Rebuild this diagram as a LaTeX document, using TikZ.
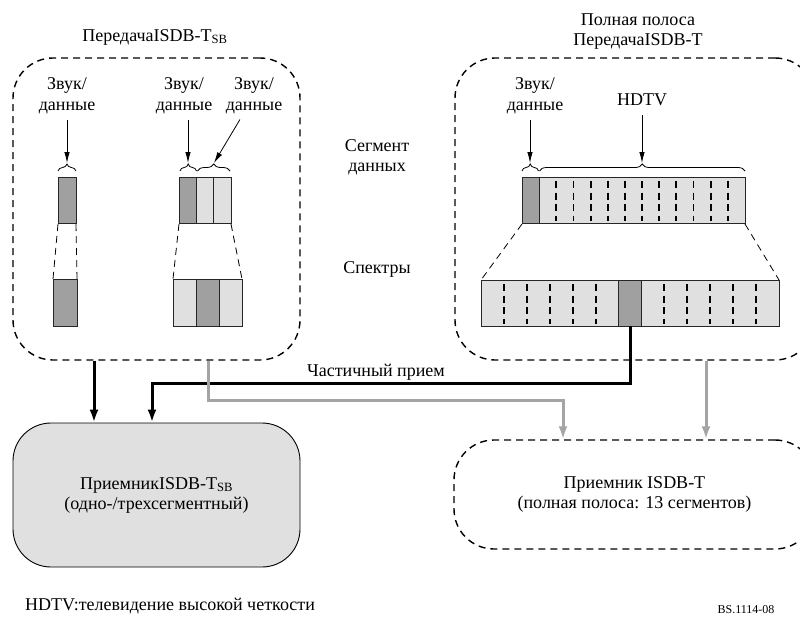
\documentclass[tikz,border=0pt]{standalone}
\usepackage{fontspec}
\setmainfont{Liberation Serif}
\usetikzlibrary{arrows.meta,decorations.pathreplacing,calc}
\definecolor{dk}{HTML}{A0A0A0}
\definecolor{lt}{HTML}{E0E0E0}
\definecolor{gl}{HTML}{A4A4A4}
\begin{document}
\begin{tikzpicture}[x=1pt,y=-1pt,
  every node/.style={font=\fontsize{18}{21}\selectfont, inner sep=0pt},
  lab/.style={align=center},
  dbox/.style={draw, dash pattern=on 7pt off 5pt, line width=1.4pt, rounded corners=40pt},
  cellbox/.style={draw=black!85, line width=0.8pt},
  trap/.style={draw, line width=0.8pt, dash pattern=on 7pt off 5pt},
  divd/.style={draw, line width=1.8pt, dash pattern=on 7pt off 4.5pt},
  brc/.style={draw, line width=0.8pt, decorate, decoration={brace, amplitude=7pt}},
  arr/.style={draw, line width=0.8pt, -{Latex[length=11pt,width=5.5pt]}},
  blk/.style={draw, line width=3pt, -{Latex[length=13pt,width=9pt]}},
  gry/.style={draw=gl, line width=3pt, -{Latex[length=13pt,width=9pt]}},
]
\useasboundingbox (0,0) rectangle (800,619);

% transmission boxes
\node[dbox, minimum width=287pt, minimum height=302pt] (ltx) at (156.5,209) {};
\node[dbox, minimum width=360pt, minimum height=302pt] (rtx) at (635,209) {};
% receivers
\node[draw, line width=0.9pt, fill=lt, rounded corners=38pt, minimum width=287pt, minimum height=144pt, align=center, font=\fontsize{18}{20}\selectfont] (lrx) at (156.5,495) {ПриемникISDB-T\textsubscript{SB}\\(одно-/трехсегментный)};
\node[dbox, minimum width=361pt, minimum height=109pt, align=center, font=\fontsize{18}{20}\selectfont] (rrx) at (634.5,494.5) {Приемник ISDB-T\\(полная полоса: 13 сегментов)};

% titles
\node (tl) at (155,37) {ПередачаISDB-T\textsubscript{SB}};
\node[lab, font=\fontsize{18}{20}\selectfont] (tr) at (638,32) {Полная полоса\\ПередачаISDB-T};
\node[lab, font=\fontsize{18}{20}\selectfont] (sd) at (377,157) {Сегмент\\данных};
\node (sp) at (377,269) {Спектры};
\node (pr) at (376,372) {Частичный прием};
\node[anchor=west] (fn) at (25,606) {HDTV:телевидение высокой четкости};
\node[anchor=north, font=\fontsize{12}{14}\selectfont] (bs) at (746,605) {BS.1114-08};

% labels
\node[lab] (l1) at (67,96) {Звук/\\данные};
\node[lab] (l2) at (184,96) {Звук/\\данные};
\node[lab] (l3) at (254,96) {Звук/\\данные};
\node[lab] (l4) at (535,96) {Звук/\\данные};
\node (l5) at (642,100) {HDTV};

% braces
\draw[brc] (58,171) -- (76,171);
\draw[brc] (180,171) -- (196.5,171);
\draw[brc] (197.5,171) -- (230,171);
\draw[brc] (522,171) -- (538.5,171);
\draw[brc] (539.5,171) -- (745,171);
\coordinate (b1) at (67,163);
\coordinate (b2) at (188,163);
\coordinate (b3) at (214,163);
\coordinate (b4) at (530,163);
\coordinate (b5) at (642,163);

\draw[arr, shorten <=6pt] (l1.south) -- (b1);
\draw[arr, shorten <=6pt] (l2.south -| b2) -- (b2);
\draw[arr, shorten <=6pt] ([xshift=-11pt]l3.south) -- (b3);
\draw[arr, shorten <=6pt] (l4.south -| b4) -- (b4);
\draw[arr, shorten <=9pt] (l5.south) -- (b5);

% left single segment
\draw[cellbox, fill=dk] (58,177) rectangle (76,223);
\draw[trap] (58,224) -- (53,279);
\draw[trap] (76,224) -- (77,279);
\draw[cellbox, fill=dk] (53,279) rectangle (77,326);

% middle three segments
\draw[cellbox, fill=dk] (179,177) rectangle (196,223);
\draw[cellbox, fill=lt] (196,177) rectangle (213.5,223);
\draw[cellbox, fill=lt] (213.5,177) rectangle (231,223);
\draw[trap] (179,224) -- (173,279);
\draw[trap] (231,224) -- (242,279);
\draw[cellbox, fill=lt] (173,279) rectangle (196,326);
\draw[cellbox, fill=dk] (196,279) rectangle (219,326);
\draw[cellbox, fill=lt] (219,279) rectangle (242,326);

% right: upper 13 segments
\draw[cellbox, fill=lt] (522,177) rectangle (745,223);
\draw[cellbox, fill=dk] (522,177) rectangle (539.15,223);
\foreach \k in {2,...,12}
  \draw[divd] ({522+\k*17.154},181) -- ({522+\k*17.154},221);
\draw[trap] (522,224) -- (481,280);
\draw[trap] (745,224) -- (779,280);
% right: lower 13 segments
\draw[cellbox, fill=lt] (481,280) rectangle (779,326);
\node[cellbox, fill=dk, minimum width=22.92pt, minimum height=46pt] (rdk) at (630.0,303) {};
\foreach \k in {1,...,5,8,9,...,12}
  \draw[divd] ({481+\k*22.923},284) -- ({481+\k*22.923},324);

% connectors
\coordinate (xa) at (94,0);
\coordinate (k1) at (152,383);
\coordinate (g1) at (208,400);
\coordinate (g2) at (563,400);
\coordinate (xg) at (706,0);
\draw[blk] (xa |- ltx.south) -- (xa |- lrx.north);
\draw[blk] (rdk.south) |- (k1) -- (k1 |- lrx.north);
\draw[gry] (g1 |- ltx.south) -- (g1) -- (g2) -- (g2 |- rrx.north);
\draw[gry] (xg |- rtx.south) -- (xg |- rrx.north);
\end{tikzpicture}
\end{document}
